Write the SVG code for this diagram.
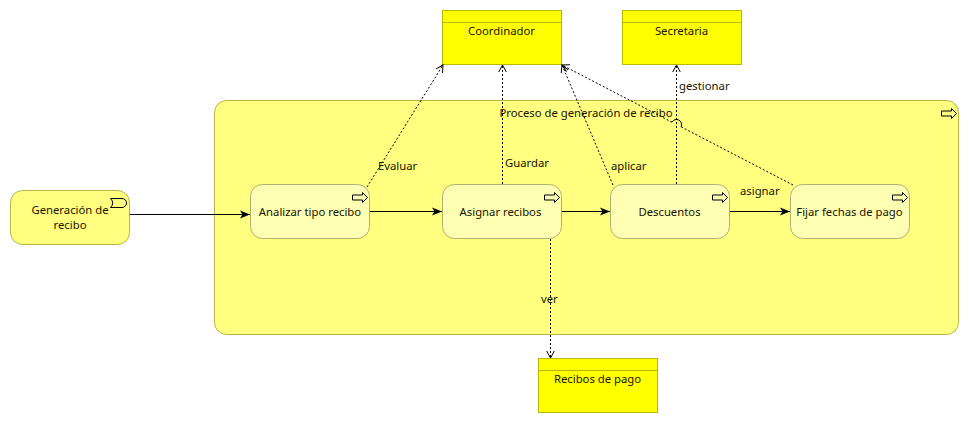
<svg xmlns="http://www.w3.org/2000/svg" width="969" height="423" viewBox="0 0 969 423">
<style>
text{font-family:"Noto Sans","Open Sans","Liberation Sans",sans-serif;font-size:11.300px;fill:#1a1400;text-anchor:middle}
.lbl{text-anchor:start}
.actor{fill:#ffff00;stroke:#b8b800;stroke-width:1}
.proc{fill:#ffff80;stroke:#b5b54a;stroke-width:1}
.sub{fill:#ffffb3;stroke:#b0b070;stroke-width:1}
.icon{fill:none;stroke:#000;stroke-width:1}
.solid{fill:none;stroke:#000;stroke-width:1;marker-end:url(#fill)}
.dash{fill:none;stroke:#000;stroke-width:1;stroke-dasharray:2 2;marker-end:url(#open)}
.hop{fill:none;stroke:#000;stroke-width:1}
</style>
<defs>
<marker id="fill" markerUnits="userSpaceOnUse" markerWidth="12" markerHeight="10" refX="10" refY="5" orient="auto"><path d="M0 1L10 5L0 9L2.500 5Z" fill="#000"/></marker>
<marker id="open" markerUnits="userSpaceOnUse" markerWidth="12" markerHeight="10" refX="10" refY="5" orient="auto"><path d="M3 1.200L10 5L3 8.800" fill="none" stroke="#000"/></marker>
<path id="arrow" class="icon" d="M0 2.500H10V0L15 5L10 10V7.500H0Z"/>
</defs>
<g id="n-proceso"><rect class="proc" x="214.500" y="100.500" width="744" height="234" rx="12"/><use href="#arrow" x="941.500" y="108.500"/><text x="586" y="116.500">Proceso de generación de recibo</text></g>
<g id="n-coordinador"><rect class="actor" x="442.500" y="10.500" width="119" height="54"/><path class="actor" d="M442.500 22.500H561.500"/><text x="501.500" y="34.500">Coordinador</text></g>
<g id="n-secretaria"><rect class="actor" x="622.500" y="10.500" width="119" height="54"/><path class="actor" d="M622.500 22.500H741.500"/><text x="681.500" y="34.500">Secretaria</text></g>
<g id="n-recibos"><rect class="actor" x="538.500" y="358.500" width="119" height="54"/><path class="actor" d="M538.500 370.500H657.500"/><text x="597.500" y="382.500">Recibos de pago</text></g>
<g id="n-generacion"><rect class="proc" x="10.500" y="190.500" width="119" height="54" rx="12"/><path class="icon" d="M110.500 198.500H122A4.500 4.500 0 0 1 122 207.500H110.500Q115 203 110.500 198.500Z"/><text x="70" y="213.500">Generación de</text><text x="70" y="228.500">recibo</text></g>
<g id="n-analizar"><rect class="sub" x="250.500" y="184.500" width="119" height="54" rx="12"/><use href="#arrow" x="352.500" y="192.500"/><text x="310" y="216">Analizar tipo recibo</text></g>
<g id="n-asignar"><rect class="sub" x="442.500" y="184.500" width="119" height="54" rx="12"/><use href="#arrow" x="544.500" y="192.500"/><text x="500.500" y="216">Asignar recibos</text></g>
<g id="n-descuentos"><rect class="sub" x="610.500" y="184.500" width="119" height="54" rx="12"/><use href="#arrow" x="712.500" y="192.500"/><text x="669.500" y="216">Descuentos</text></g>
<g id="n-fijar"><rect class="sub" x="790.500" y="184.500" width="119" height="54" rx="12"/><use href="#arrow" x="892.500" y="192.500"/><text x="849.500" y="216">Fijar fechas de pago</text></g>
<g id="connectors">
<path class="solid" d="M130 214.500H250"/>
<path class="solid" d="M370 211.500H442"/>
<path class="solid" d="M562 211.500H610"/>
<path class="solid" d="M730 211.500H790"/>
<path class="dash" d="M367 187L443 65"/>
<path class="dash" d="M502.500 184V65"/>
<path class="dash" d="M613 185L562 65"/>
<path class="dash" d="M676.500 184V65"/>
<path class="dash" d="M793 185L681 126.800M672 122.200L562 65"/>
<path class="hop" d="M681 126.800A5 5 0 0 0 672 122.200"/>
<path class="dash" d="M550.500 239V358"/>
</g>
<g id="labels">
<text class="lbl" x="378" y="170">Evaluar</text>
<text class="lbl" x="505" y="167">Guardar</text>
<text class="lbl" x="611" y="170">aplicar</text>
<text class="lbl" x="679" y="90">gestionar</text>
<text class="lbl" x="740" y="195">asignar</text>
<text class="lbl" x="541" y="303">ver</text>
</g>
</svg>
